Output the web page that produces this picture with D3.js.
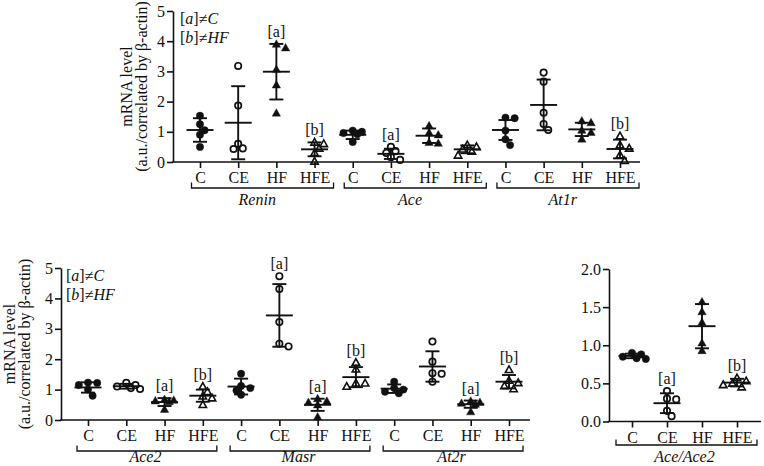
<!DOCTYPE html>
<html><head><meta charset="utf-8">
<script src="https://cdn.jsdelivr.net/npm/d3@7"></script>
<style>
body{margin:0;background:#fff}
svg{display:block}
</style>
</head><body><svg id="c" width="764" height="466"></svg>
<script>
// ---------- DATA ----------
const groups = ["C", "CE", "HF", "HFE"];
const topGenes = ["Renin", "Ace", "At1r"];
const bottomGenes = ["Ace2", "Masr", "At2r"];
const ratioGenes = ["Ace/Ace2"];
const yTicksMRNA = [0, 1, 2, 3, 4, 5];
const yTicksRatio = [0, 0.5, 1.0, 1.5, 2.0];

// individual values per group (C, CE, HF, HFE), 5 animals each
const reninValues = [[1.53,1.25,1.05,0.9,0.5],[3.18,1.87,0.6,0.45,0.43],[3.9,3.78,3.07,2.55,1.62],[0.65,0.6,0.45,0.3,0.02]];
const reninMean = [1.06, 1.30, 2.99, 0.42];
const reninSD = [0.39, 1.21, 0.92, 0.23];
const reninSig = ["", "", "[a]", "[b]"];

const aceValues = [[1.04,1.0,0.96,0.92,0.66],[0.5,0.36,0.3,0.16,0.07],[1.2,0.97,0.9,0.65,0.62],[0.56,0.5,0.42,0.35,0.22]];
const aceMean = [0.90, 0.27, 0.87, 0.42];
const aceSD = [0.14, 0.17, 0.24, 0.13];
const aceSig = ["", "[a]", "", ""];

const at1rValues = [[1.47,1.45,1.04,0.75,0.56],[2.96,2.66,1.63,1.26,1.06],[1.36,1.3,1.05,0.98,0.76],[0.86,0.56,0.45,0.23,0.04]];
const at1rMean = [1.06, 1.89, 1.08, 0.43];
const at1rSD = [0.33, 0.84, 0.22, 0.31];
const at1rSig = ["", "", "", "[b]"];

const ace2Values = [[1.23,1.22,1.15,1.0,0.8],[1.22,1.15,1.1,1.05,1.02],[0.68,0.65,0.63,0.6,0.35],[1.1,0.93,0.78,0.72,0.5]];
const ace2Mean = [1.07, 1.11, 0.59, 0.80];
const ace2SD = [0.17, 0.08, 0.13, 0.2];
const ace2Sig = ["", "", "[a]", "[b]"];

const masrValues = [[1.52,1.12,1.05,0.97,0.83],[4.73,4.31,3.22,2.51,2.42],[0.7,0.62,0.58,0.5,0.1],[1.89,1.67,1.21,1.21,1.1]];
const masrMean = [1.10, 3.44, 0.50, 1.41];
const masrSD = [0.26, 1.03, 0.2, 0.33];
const masrSig = ["", "[a]", "[a]", "[b]"];

const at2rValues = [[1.26,1.05,1.0,0.93,0.88],[2.58,1.92,1.54,1.52,1.26],[0.62,0.58,0.55,0.52,0.27],[1.65,1.3,1.22,1.12,1.02]];
const at2rMean = [1.03, 1.76, 0.52, 1.26];
const at2rSD = [0.14, 0.5, 0.12, 0.22];
const at2rSig = ["", "", "[a]", "[b]"];

const ratioValues = [[0.9,0.88,0.85,0.83,0.82],[0.4,0.3,0.29,0.14,0.07],[1.57,1.44,1.3,1.03,0.93],[0.57,0.53,0.5,0.48,0.45]];
const ratioMean = [0.86, 0.24, 1.25, 0.51];
const ratioSD = [0.03, 0.13, 0.29, 0.05];
const ratioSig = ["", "[a]", "", "[b]"];

const yTitle1 = "mRNA level";
const yTitle2 = "(a.u./correlated by β-actin)";

// ---------- DRAW ----------
const svg = d3.select("#c");
const FS = 16;
const FF = "'Liberation Serif', 'Times New Roman', Times, 'DejaVu Serif', serif";

function txt(sel) { return sel.attr("font-family", FF).attr("font-size", FS).attr("fill", "#111"); }

function rows(genes, vals, means, sds, sigs) {
  const out = [];
  genes.forEach((g, gi) => groups.forEach((grp, k) => {
    out.push({gene: g, group: grp, key: g + "|" + grp, values: vals[gi][k], mean: means[gi][k], sd: sds[gi][k], sig: sigs[gi][k]});
  }));
  return out;
}

function swarm(vals, y) {
  const placed = [];
  const minD = 6.2, step = 4.6;
  const order = vals.map((v, i) => i).sort((a, b) => vals[b] - vals[a]);
  const dx = new Array(vals.length).fill(0);
  const cands = [0, step, -step, 2 * step, -2 * step, 3 * step, -3 * step];
  order.forEach(i => {
    const py = y(vals[i]);
    let best = null, bestD = -1;
    for (const c of cands) {
      const dmin = placed.length ? d3.min(placed, p => Math.hypot(p.x - c, p.y - py)) : 99;
      if (dmin >= minD) { best = c; break; }
      if (dmin > bestD) { bestD = dmin; best = c; }
    }
    placed.push({x: best, y: py});
    dx[i] = best;
  });
  return dx;
}

function marker(g, type, cx, cy) {
  const filled = (type === "C" || type === "HF");
  const tri = (type === "HF" || type === "HFE");
  if (!tri) {
    g.append("circle").attr("cx", cx).attr("cy", cy).attr("r", filled ? 3.7 : 3.2)
      .attr("fill", filled ? "#111" : "none").attr("stroke", "#111").attr("stroke-width", filled ? 0.4 : 1.7);
  } else {
    const s = filled ? 4.4 : 3.9;
    const pts = [[cx, cy - s], [cx + s * 0.95, cy + s * 0.7], [cx - s * 0.95, cy + s * 0.7]];
    g.append("path").attr("d", "M" + pts.map(p => p.join(",")).join("L") + "Z")
      .attr("fill", filled ? "#111" : "none").attr("stroke", "#111").attr("stroke-width", filled ? 0.4 : 1.6);
  }
}

function panel(cfg) {
  const g = svg.append("g");
  const data = cfg.data;
  const x = d3.scalePoint().domain(data.map(d => d.key)).range([cfg.x0, cfg.x1]);
  const y = d3.scaleLinear().domain([0, cfg.ymax]).range([cfg.yb, cfg.yt]);

  // y axis
  const ya = g.append("g").attr("transform", `translate(${cfg.ax},0)`)
    .call(d3.axisLeft(y).tickValues(cfg.ticks).tickFormat(cfg.fmt).tickSize(6).tickSizeOuter(0).tickPadding(2));
  ya.selectAll("path,line").attr("stroke", "#111").attr("stroke-width", 1.6);
  txt(ya.selectAll("text"));

  // x axis
  const xa = g.append("g").attr("transform", `translate(0,${cfg.yb})`)
    .call(d3.axisBottom(x).tickSize(6).tickSizeOuter(0).tickPadding(4).tickFormat(k => k.split("|")[1]));
  xa.select(".domain").remove();
  xa.selectAll("line").attr("stroke", "#111").attr("stroke-width", 1.6);
  txt(xa.selectAll("text"));
  g.append("line").attr("x1", cfg.ax - 0.8).attr("x2", cfg.axEnd).attr("y1", cfg.yb).attr("y2", cfg.yb)
    .attr("stroke", "#111").attr("stroke-width", 1.6);

  // gene brackets
  const genes = [...new Set(data.map(d => d.gene))];
  genes.forEach(gn => {
    const ks = data.filter(d => d.gene === gn).map(d => x(d.key));
    const xl = d3.min(ks) - cfg.brL, xr = d3.max(ks) + cfg.brR;
    g.append("path").attr("d", `M${xl},${cfg.brY - 5.5}V${cfg.brY}H${xr}V${cfg.brY - 5.5}`)
      .attr("fill", "none").attr("stroke", "#111").attr("stroke-width", 1.3);
    txt(g.append("text")).attr("x", (d3.min(ks) + d3.max(ks)) / 2).attr("y", cfg.geneY).attr("text-anchor", "middle")
      .attr("font-style", "italic").text(gn);
  });

  // error bars + points
  data.forEach(d => {
    const cx = x(d.key);
    const gg = g.append("g");
    const top = y(d.mean + d.sd), bot = y(Math.max(0, d.mean - d.sd));
    const ln = (x1, y1, x2, y2) => gg.append("line").attr("x1", x1).attr("y1", y1).attr("x2", x2).attr("y2", y2).attr("stroke", "#111").attr("stroke-width", 1.9);
    ln(cx, top, cx, bot);
    ln(cx - 7, top, cx + 7, top);
    ln(cx - 7, bot, cx + 7, bot);
    ln(cx - 13.5, y(d.mean), cx + 13.5, y(d.mean));
    const dx = swarm(d.values, y);
    d.values.forEach((v, i) => marker(gg, d.group, cx + dx[i], y(v)));
    if (d.sig) {
      const hi = Math.min(top, d3.min(d.values.map(v => y(v))));
      txt(gg.append("text")).attr("x", cx).attr("y", hi - 7).attr("text-anchor", "middle").text(d.sig);
    }
  });

  // y title
  if (cfg.title) {
    const cy = (cfg.yb + cfg.yt) / 2;
    txt(g.append("text")).attr("transform", `translate(${cfg.t1x},${cy}) rotate(-90)`).attr("text-anchor", "middle").text(yTitle1);
    txt(g.append("text")).attr("transform", `translate(${cfg.t2x},${cy}) rotate(-90)`).attr("text-anchor", "middle").text(yTitle2);
  }
  // legend
  if (cfg.legend) {
    const l1 = txt(g.append("text")).attr("x", cfg.lx).attr("y", cfg.ly);
    l1.append("tspan").text("[");
    l1.append("tspan").attr("font-style", "italic").text("a");
    l1.append("tspan").text("]≠");
    l1.append("tspan").attr("font-style", "italic").text("C");
    const l2 = txt(g.append("text")).attr("x", cfg.lx).attr("y", cfg.ly + 18.5);
    l2.append("tspan").text("[");
    l2.append("tspan").attr("font-style", "italic").text("b");
    l2.append("tspan").text("]≠");
    l2.append("tspan").attr("font-style", "italic").text("HF");
  }
}

panel({
  data: rows(topGenes, [reninValues, aceValues, at1rValues], [reninMean, aceMean, at1rMean], [reninSD, aceSD, at1rSD], [reninSig, aceSig, at1rSig]),
  x0: 200, x1: 620, ax: 173, axEnd: 640, yb: 162, yt: 11, ymax: 5, ticks: yTicksMRNA, fmt: d3.format("d"),
  brL: 8.5, brR: 19, brY: 188, geneY: 205, title: true, t1x: 132, t2x: 147, legend: true, lx: 180, ly: 24
});
panel({
  data: rows(bottomGenes, [ace2Values, masrValues, at2rValues], [ace2Mean, masrMean, at2rMean], [ace2SD, masrSD, at2rSD], [ace2Sig, masrSig, at2rSig]),
  x0: 88, x1: 509, ax: 61, axEnd: 530, yb: 420, yt: 268, ymax: 5, ticks: yTicksMRNA, fmt: d3.format("d"),
  brL: 11, brR: 14, brY: 451, geneY: 462, title: true, t1x: 15, t2x: 30, legend: true, lx: 66, ly: 281
});
panel({
  data: rows(ratioGenes, [ratioValues], [ratioMean], [ratioSD], [ratioSig]),
  x0: 632, x1: 737, ax: 609, axEnd: 761, yb: 421.5, yt: 269, ymax: 2, ticks: yTicksRatio, fmt: d3.format(".1f"),
  brL: 16, brR: 20, brY: 445, geneY: 462, title: false, legend: false
});
</script>
</body></html>
